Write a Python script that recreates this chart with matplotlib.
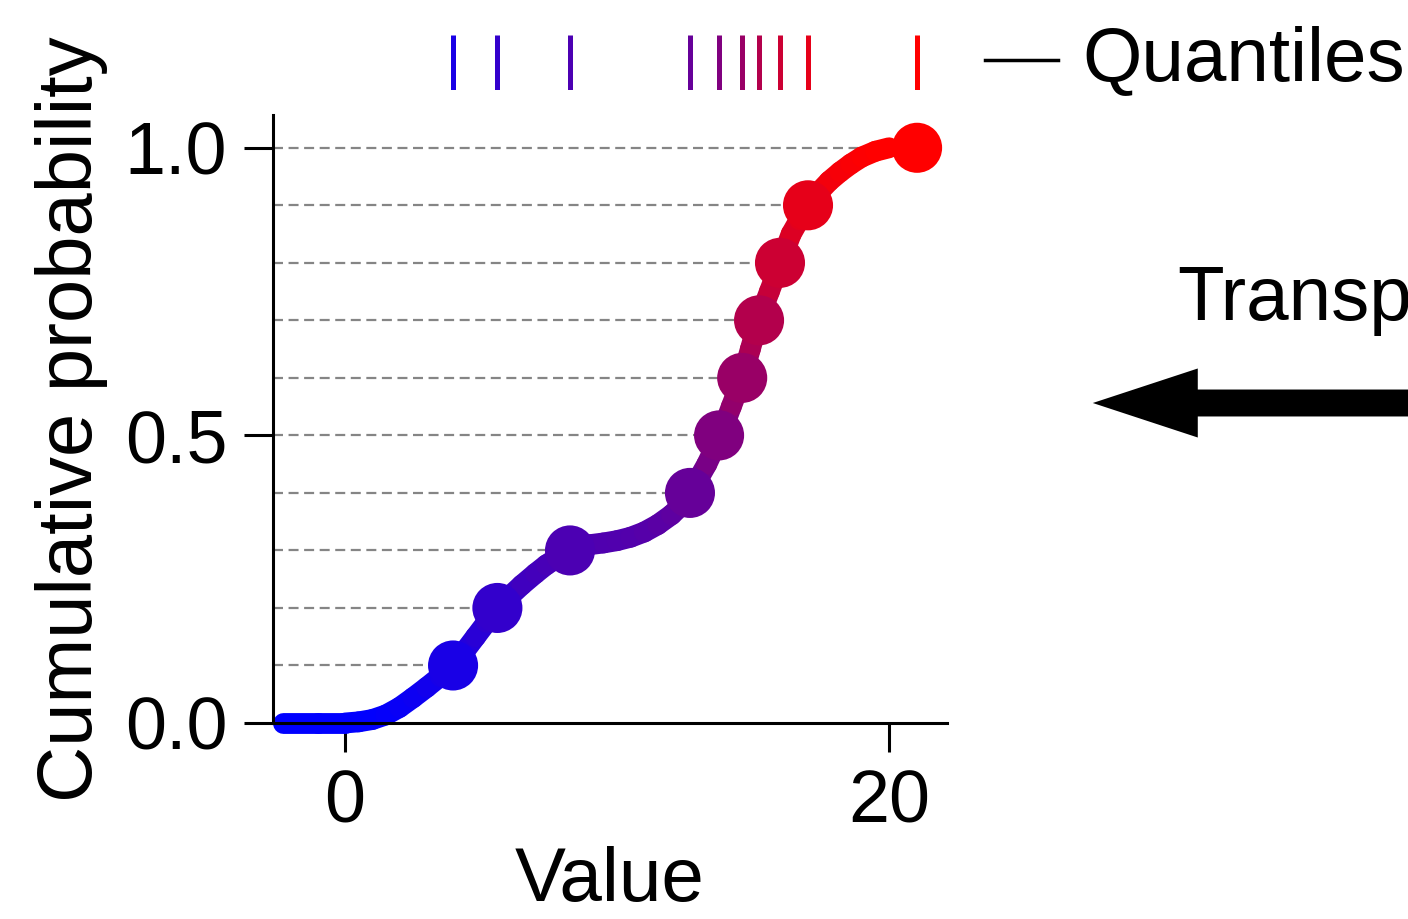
import numpy as np
import matplotlib
matplotlib.use('Agg')
import matplotlib.pyplot as plt
from matplotlib.collections import LineCollection
from matplotlib.colors import LinearSegmentedColormap
from matplotlib.lines import Line2D
from matplotlib.patches import FancyArrowPatch, ArrowStyle

plt.rcParams['font.family'] = ['Liberation Sans', 'DejaVu Sans']

# quantile levels and their values
levels = [0.1, 0.2, 0.3, 0.4, 0.5, 0.6, 0.7, 0.8, 0.9, 1.0]
q_values = [3.97, 5.6, 8.27, 12.68, 13.75, 14.6, 15.22, 15.99, 17.02, 21.03]

# cdf curve
curve_x = [-2.3, -1.0, 0.0, 0.5, 1.0, 1.5, 2.0, 2.5, 3.0, 3.5, 4.0, 4.4, 4.8, 5.2, 5.6,
           6.0, 6.5, 7.0, 7.4, 7.9, 8.3, 8.7, 9.0, 9.5, 10.0, 10.5, 11.0, 11.5, 12.0,
           12.4, 12.7, 13.0, 13.3, 13.8, 14.2, 14.6, 14.9, 15.2, 15.6, 16.0, 16.4,
           16.7, 17.0, 17.4, 17.8, 18.2, 18.6, 19.0, 19.5, 20.0]
curve_y = [0.0, 0.0, 0.0, 0.002, 0.006, 0.014, 0.027, 0.044, 0.062, 0.081, 0.1,
           0.125, 0.15, 0.175, 0.2, 0.218, 0.24, 0.26, 0.275, 0.29, 0.3, 0.307,
           0.31, 0.313, 0.317, 0.323, 0.332, 0.345, 0.362, 0.38, 0.4, 0.425, 0.45,
           0.5, 0.55, 0.6, 0.65, 0.7, 0.75, 0.8, 0.85, 0.875, 0.9, 0.922, 0.942,
           0.958, 0.972, 0.984, 0.994, 1.0]

cmap = LinearSegmentedColormap.from_list('br', ['#0000ff', '#ff0000'])

fig = plt.figure(figsize=(14.08, 9.19), dpi=100)
ax = fig.add_axes([273/1408, 1 - 723/919, 674/1408, 608/919])

# dashed guides
ax.hlines(levels, -2.65, q_values, colors='#858585', linestyles=(0, (4.5, 2.5)),
          lw=1.6, zorder=1)

# coloured cdf
pts = np.column_stack([curve_x, curve_y])
segs = np.stack([pts[:-1], pts[1:]], axis=1)
mid = (np.array(curve_y[:-1]) + np.array(curve_y[1:])) / 2
lc = LineCollection(segs, colors=cmap(mid), linewidths=15, capstyle='round',
                    zorder=2, clip_on=False)
ax.add_collection(lc)

ax.scatter(q_values, levels, s=1300, c=cmap(np.array(levels)), zorder=3,
           clip_on=False, linewidths=0)

ax.set_xlim(-2.65, 22.13)
ax.set_ylim(0, 1.057)
ax.set_xticks([0, 20])
ax.set_yticks([0.0, 0.5, 1.0])
ax.set_yticklabels(['0.0', '0.5', '1.0'])
for s in ['top', 'right']:
    ax.spines[s].set_visible(False)
for s in ['left', 'bottom']:
    ax.spines[s].set_linewidth(2.2)
ax.tick_params(length=21, width=2.2, labelsize=53, pad=12)
ax.set_xlabel('Value', fontsize=55, labelpad=6)
ax.set_ylabel('Cumulative probability', fontsize=56, labelpad=12)

# rug of quantiles on top
ax_rug = fig.add_axes([273/1408, 1 - 90/919, 674/1408, 55/919])
ax_rug.vlines(q_values, 0, 1, colors=cmap(np.array(levels)), lw=3.6)
ax_rug.set_xlim(-2.65, 22.13)
ax_rug.set_ylim(0, 1)
ax_rug.axis('off')

fig.add_artist(Line2D([985/1408, 1058/1408], [1 - 60/919, 1 - 60/919],
                      transform=fig.transFigure, color='black', lw=2.5))
fig.text(1082/1408, 1 - 80/919, 'Quantiles', fontsize=55, va='baseline')

fig.text(1177/1408, 1 - 320/919, 'Transport', fontsize=55, va='baseline')
arrow = FancyArrowPatch((1.05, 1 - 403/919), (1090/1408, 1 - 403/919),
                        transform=fig.transFigure,
                        arrowstyle=ArrowStyle.Simple(head_length=7.56, head_width=4.97,
                                                     tail_width=1.94),
                        mutation_scale=10, color='black', lw=0)
fig.add_artist(arrow)

fig.savefig('out.png', dpi=100)
